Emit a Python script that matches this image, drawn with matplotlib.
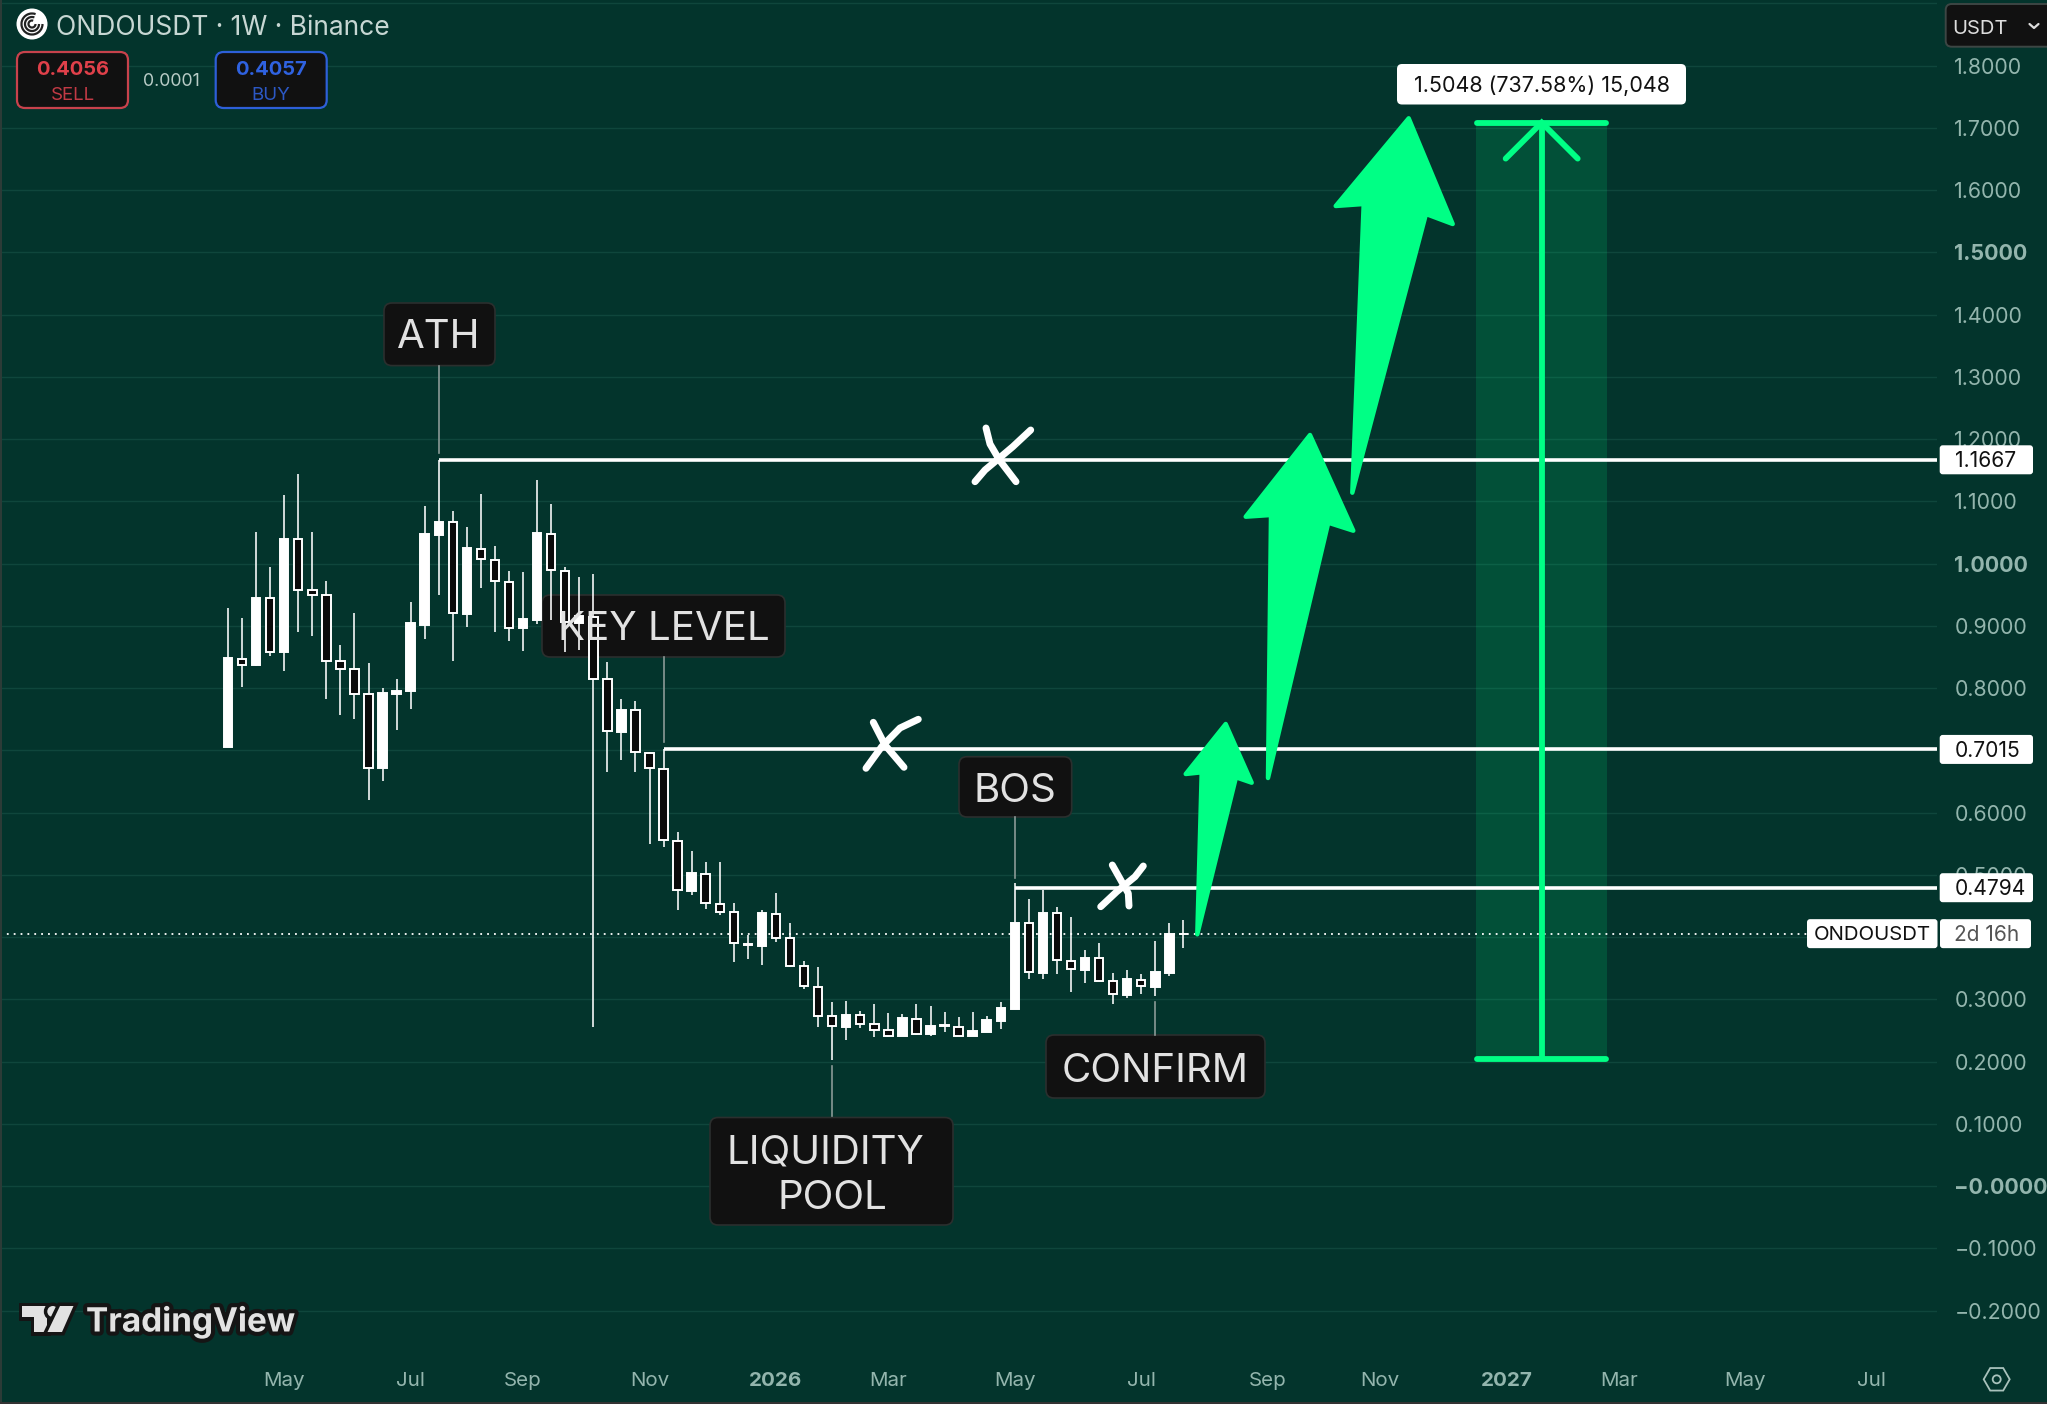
import numpy as np
import matplotlib
matplotlib.use("Agg")
import matplotlib.pyplot as plt
import matplotlib.patheffects as pe
from matplotlib.patches import FancyBboxPatch, Polygon, Circle, Rectangle, RegularPolygon, Arc
from matplotlib.transforms import Affine2D

plt.rcParams['font.family'] = ['Inter', 'DejaVu Sans']

# ---------- data ----------
opens = [.705,.847,.837,.944,.858,1.039,.958,.949,.843,.830,.791,.671,.790,.795,.902,1.046,1.067,.919,1.024,1.006,
         .971,.896,.909,1.048,.988,.905,.914,.814,.730,.765,.696,.670,.555,.474,.502,.454,.440,.387,.386,.437,
         .398,.353,.3205,.273,.256,.2745,.2605,.251,.242,.269,.244,.257,.256,.241,.248,.266,.285,.422,.343,.438,
         .362,.347,.366,.329,.307,.331,.320,.343,.4045]
closes = [.848,.837,.944,.858,1.039,.958,.950,.843,.830,.791,.672,.792,.796,.904,1.047,1.067,.920,1.025,1.007,.972,
          .896,.911,1.049,.989,.906,.916,.815,.731,.765,.697,.671,.556,.475,.503,.455,.440,.390,.389,.438,.398,
          .354,.321,.274,.258,.275,.261,.251,.242,.270,.245,.258,.2595,.242,.249,.267,.286,.4226,.344,.438,.363,
          .3485,.366,.329,.308,.332,.321,.344,.405,.4056]
highs = [.928,.913,1.050,.995,1.110,1.144,1.051,.972,.870,.920,.840,.800,.815,.939,1.093,1.1667,1.084,1.058,1.111,1.028,
         .988,.986,1.134,1.095,.994,.979,.983,.842,.782,.780,.698,.7015,.569,.539,.520,.520,.455,.404,.444,.471,
         .422,.362,.352,.296,.298,.282,.292,.278,.277,.292,.290,.280,.272,.280,.273,.296,.487,.461,.475,.449,
         .4325,.379,.391,.343,.347,.341,.394,.422,.427]
lows = [.705,.802,.835,.851,.828,.890,.883,.783,.757,.751,.621,.650,.733,.767,.879,.949,.844,.898,.960,.890,
        .876,.859,.903,.910,.858,.861,.255,.665,.684,.665,.550,.545,.443,.468,.446,.436,.360,.365,.355,.392,
        .352,.317,.255,.202,.234,.254,.240,.240,.241,.243,.242,.247,.241,.241,.248,.253,.284,.3335,.332,.340,
        .312,.327,.329,.293,.3025,.309,.305,.338,.383]

level_prices = [1.1667, 0.7015, 0.4794]
level_labels = ['1.1667', '0.7015', '0.4794']
level_start_weeks = [15, 31, 56]
last_price = 0.4056
target_low = 0.2035
target_move = 1.5048
target_weeks = [88.85, 98.15]
target_text = '1.5048 (737.58%) 15,048'

price_ticks = [round(-0.2 + 0.1 * i, 1) for i in range(22)]
# 0.4000 and 0.7000 sit fully behind price tags in the reference, so they carry no visible label
price_labels = ['\u22120.2000', '\u22120.1000', '\u22120.0000', '0.1000', '0.2000', '0.3000', '', '0.5000',
                '0.6000', '', '0.8000', '0.9000', '1.0000', '1.1000', '1.2000', '1.3000', '1.4000',
                '1.5000', '1.6000', '1.7000', '1.8000', '']
bold_prices = ['\u22120.0000', '1.0000', '1.5000']
month_weeks = [4, 13, 21, 30, 39, 47, 56, 65, 74, 82, 91, 99, 108, 117]
month_labels = ['May', 'Jul', 'Sep', 'Nov', '2026', 'Mar', 'May', 'Jul', 'Sep', 'Nov', '2027', 'Mar', 'May', 'Jul']
bold_months = ['2026', '2027']

# ---------- style ----------
W, H = 2047, 1404
BG = '#03342C'
GRID = '#0F463C'
TICK = '#93B5AD'
GREEN = '#00FF85'
LABEL_BG = '#111111'
LABEL_EDGE = '#2B2F2E'
LABEL_TX = '#E2E2E2'
CONN = '#8A9A96'
CW = 14.05   # pixels per week
X0 = 228     # pixel of first week
Y18 = 65.5   # pixel of price 1.8
PPU = 622.6  # pixels per 1.0 price
AX_R, AX_B = 1937, 1355

fig = plt.figure(figsize=(W / 100, H / 100), dpi=100, facecolor=BG)
ax = fig.add_axes([0, 1 - AX_B / H, AX_R / W, AX_B / H], facecolor=BG)
ax.set_xlim((0 - X0) / CW, (AX_R - X0) / CW)
ax.set_ylim(1.8 - (AX_B - Y18) / PPU, 1.8 + Y18 / PPU)
for s in ax.spines.values():
    s.set_visible(False)

PX = Affine2D().scale(1 / W, -1 / H).translate(0, 1) + fig.transFigure


def ypx(price):
    return H - ax.transData.transform((0, price))[1]


def box(x0, y0, x1, y1, fc, ec='none', lw=0, r=3, z=2):
    p = FancyBboxPatch((x0, y0), x1 - x0, y1 - y0, boxstyle=f'round,pad=0,rounding_size={r}',
                       fc=fc, ec=ec, lw=lw, transform=PX, zorder=z, clip_on=False)
    ax.add_patch(p)
    return p


def txt(x, y, s, size, color, ha='center', weight='normal', z=8, **kw):
    return ax.text(x, y, s, transform=PX, fontsize=size, color=color, ha=ha, va='center',
                   fontweight=weight, zorder=z, clip_on=False, **kw)


# ---------- axes ----------
ax.set_yticks(price_ticks)
ax.set_yticklabels(price_labels)
ax.yaxis.tick_right()
ax.tick_params(axis='y', length=0, pad=12.5, labelsize=15.4, labelcolor=TICK)
for t in ax.get_yticklabels():
    if t.get_text() in bold_prices:
        t.set_fontweight('bold')
ax.set_xticks(month_weeks)
ax.set_xticklabels(month_labels)
ax.tick_params(axis='x', length=0, pad=12.5, labelsize=14.8, labelcolor=TICK)
for t in ax.get_xticklabels():
    if t.get_text() in bold_months:
        t.set_fontweight('bold')
ax.set_axisbelow(True)
ax.grid(axis='y', color=GRID, lw=1.0)
ax.grid(axis='x', visible=False)

# ---------- candles ----------
weeks = np.arange(len(opens))
o, c, h, l = map(np.array, (opens, closes, highs, lows))
ax.vlines(weeks, l, h, color='white', lw=1.15, zorder=3)
up = c >= o
ax.bar(weeks[up], (c - o)[up], bottom=o[up], width=0.6, color='white', edgecolor='white', lw=1.4, zorder=4)
ax.bar(weeks[~up], (c - o)[~up], bottom=o[~up], width=0.6, color='#0A0A0A', edgecolor='white', lw=1.4, zorder=4)

# ---------- target zone ----------
target_high = target_low + target_move
tx0, tx1 = target_weeks
tc = (tx0 + tx1) / 2
ax.add_patch(Rectangle((tx0, target_low), tx1 - tx0, target_move, fc=GREEN, alpha=0.14, ec='none', zorder=2))

# ---------- levels ----------
ax.axhline(last_price, color='white', lw=1.3, ls=(0, (1, 2.8)), zorder=3.5)
for p, wk in zip(level_prices, level_start_weeks):
    ax.hlines(p, wk, ax.get_xlim()[1], color='white', lw=2.6, zorder=5)

ax.hlines([target_low, target_high], tx0 + 0.05, tx1 - 0.05, color=GREEN, lw=4.2, zorder=5.5, capstyle='round')
ax.vlines(tc, target_low, target_high, color=GREEN, lw=4.2, zorder=5.5)
cx_px = ax.transData.transform((tc, 0))[0]
ty = ypx(target_high)
ax.plot([cx_px - 36, cx_px, cx_px + 36], [ty + 36, ty, ty + 36], color=GREEN, lw=4.2, transform=PX,
        zorder=5.5, solid_capstyle='round', solid_joinstyle='miter')
box(1397, 64, 1686, 104.5, 'white', r=5, z=7)
txt(cx_px, 86, target_text, 15.5, '#111111')

# ---------- hand drawn green arrows ----------
arrows = [
    [(1225.7, 724), (1185.7, 774), (1201.7, 772.3), (1197.3, 934.3), (1236, 777.3), (1251.7, 782.7)],
    [(1310, 435), (1245.7, 516.7), (1271, 515), (1268, 778), (1328.3, 522.7), (1353.3, 530.7)],
    [(1408.7, 118.3), (1335.7, 206), (1363.7, 204), (1352.3, 492.7), (1426, 214), (1452.7, 224)],
]
for a in arrows:
    ax.add_patch(Polygon(a, closed=True, fc=GREEN, ec=GREEN, lw=3.2, joinstyle='round', transform=PX, zorder=6.5))

# ---------- hand drawn crosses ----------
crosses = [
    [[(986, 428), (990, 444), (999.4, 460), (1016, 481.7)], [(1030.7, 430), (1012.8, 446.7), (999.4, 458), (985, 470), (975, 481.7)]],
    [[(873.3, 722.3), (885, 745), (904, 767.3)], [(918.3, 719.3), (900, 728), (881.7, 746.7), (866, 768.3)]],
    [[(1112.3, 865), (1121.7, 881.7), (1128.3, 893.3), (1129, 906)], [(1143.3, 866), (1135, 876.7), (1116.7, 891.7), (1100.7, 906.7)]],
]
for cr in crosses:
    for stroke in cr:
        xs, ys = zip(*stroke)
        ax.plot(xs, ys, color='white', lw=5, transform=PX, zorder=6, solid_capstyle='round', solid_joinstyle='round')

# ---------- callout labels ----------
FS = 29
callouts = [
    ((384, 303, 495, 365.6), [(439, 338, 'ATH')], (438.6, 366, 453)),
    ((542, 595, 785, 657), [(664, 630, 'KEY LEVEL')], (663.5, 657, 741.7)),
    ((959, 756.7, 1071.7, 817), [(1015, 791, 'BOS')], (1015, 817, 878)),
    ((1046, 1035, 1265, 1098), [(1155.5, 1071, 'CONFIRM')], (1155.3, 1001.7, 1035)),
    ((710, 1117.5, 953, 1225), [(825, 1153, 'LIQUIDITY'), (832, 1198.5, 'POOL')], (831.6, 1066, 1116)),
]
for (x0, y0, x1, y1), lines, (cx, c0, c1) in callouts:
    box(x0, y0, x1, y1, LABEL_BG, ec=LABEL_EDGE, lw=1.2, r=8, z=2.5)
    for x, y, s in lines:
        txt(x, y, s, FS, LABEL_TX)
    ax.plot([cx, cx], [c0, c1], color=CONN, lw=1.2, transform=PX, zorder=2.6)

# ---------- price scale tags ----------
for p, s in zip(level_prices, level_labels):
    y = ypx(p)
    box(1939.7, y - 14.5, 2033, y + 14.5, 'white', r=3, z=7)
    txt(1954.5, y + 1.5, s, 15.2, '#111111', ha='left')
y = ypx(last_price)
box(1807, y - 14.5, 1937.5, y + 14.5, 'white', r=3, z=7)
txt(1872, y + 1.5, 'ONDOUSDT', 14.7, '#111111')
box(1940, y - 14.5, 2031, y + 14.5, 'white', r=3, z=7)
txt(1954.5, y + 1.5, '2d 16h', 15, '#555555', ha='left')

# ---------- header ----------
ax.add_patch(Circle((32, 24), 15.5, fc='white', ec='none', transform=PX, zorder=7, clip_on=False))
for r, lw_ in [(10.5, 1.6), (7, 1.6), (3.5, 1.6)]:
    ax.add_patch(Arc((32, 24), 2 * r, 2 * r, theta1=0, theta2=290, ec='#222222', lw=lw_, transform=PX, zorder=8, clip_on=False))
txt(55.5, 28, 'ONDOUSDT \u00b7 1W \u00b7 Binance', 19, '#C7D7D3', ha='left')
box(17, 52, 128, 108, '#111111', ec='#C8424C', lw=1.6, r=8, z=7)
txt(72.7, 70, '0.4056', 14.5, '#E0404A', weight='bold')
txt(72.7, 95, 'SELL', 13.5, '#C23A45')
txt(171.7, 81, '0.0001', 12.8, '#B9CCC7')
box(215.7, 52, 326.7, 108, '#111111', ec='#2E5FD8', lw=1.6, r=8, z=7)
txt(271, 70, '0.4057', 14.5, '#2F62E0', weight='bold')
txt(271, 95, 'BUY', 13.5, '#2C58C4')
box(1945.7, 4, 2060, 46.7, '#111111', ec='#3D4644', lw=1.4, r=6, z=7)
txt(1952, 29, 'USDT', 14.5, '#DDDDDD', ha='left')
ax.plot([2029.5, 2034, 2038.5], [24, 28, 24], color='#DDDDDD', lw=1.6, transform=PX, zorder=8, clip_on=False,
        solid_capstyle='round')

# ---------- TradingView logo ----------
stroke = [pe.withStroke(linewidth=6, foreground='#151515')]
logo = [
    Polygon([(22, 1306), (47, 1306), (47, 1332), (34, 1332), (34, 1317), (22, 1317)], closed=True, fc='#E2E2E2', ec='none', transform=PX, zorder=8),
    Circle((52.8, 1311.5), 5.5, fc='#E2E2E2', ec='none', transform=PX, zorder=8),
    Polygon([(60, 1306), (73.5, 1306), (62, 1332), (47.5, 1332)], closed=True, fc='#E2E2E2', ec='none', transform=PX, zorder=8),
]
for pt in logo:
    pt.set_path_effects([pe.Stroke(linewidth=5, foreground='#151515'), pe.Normal()])
    ax.add_patch(pt)
t = txt(86, 1322, 'TradingView', 24, '#E2E2E2', ha='left', weight='bold')
t.set_path_effects(stroke)

# ---------- settings icon ----------
ax.add_patch(RegularPolygon((1996.7, 1379.3), 6, radius=13, orientation=np.pi / 6, fc='none', ec='#A9C2BC', lw=1.3,
                            transform=PX, zorder=8, clip_on=False))
ax.add_patch(Circle((1996.7, 1379.3), 4, fc='none', ec='#A9C2BC', lw=1.3, transform=PX, zorder=8, clip_on=False))

# ---------- frame edges ----------
ax.add_patch(Rectangle((0, 0), 1.6, H, fc='#2C3B37', ec='none', transform=PX, zorder=9, clip_on=False))
ax.add_patch(Rectangle((0, H - 2.5), W, 2.5, fc='#333333', ec='none', transform=PX, zorder=9, clip_on=False))

fig.savefig('out.png', dpi=100, facecolor=BG)
